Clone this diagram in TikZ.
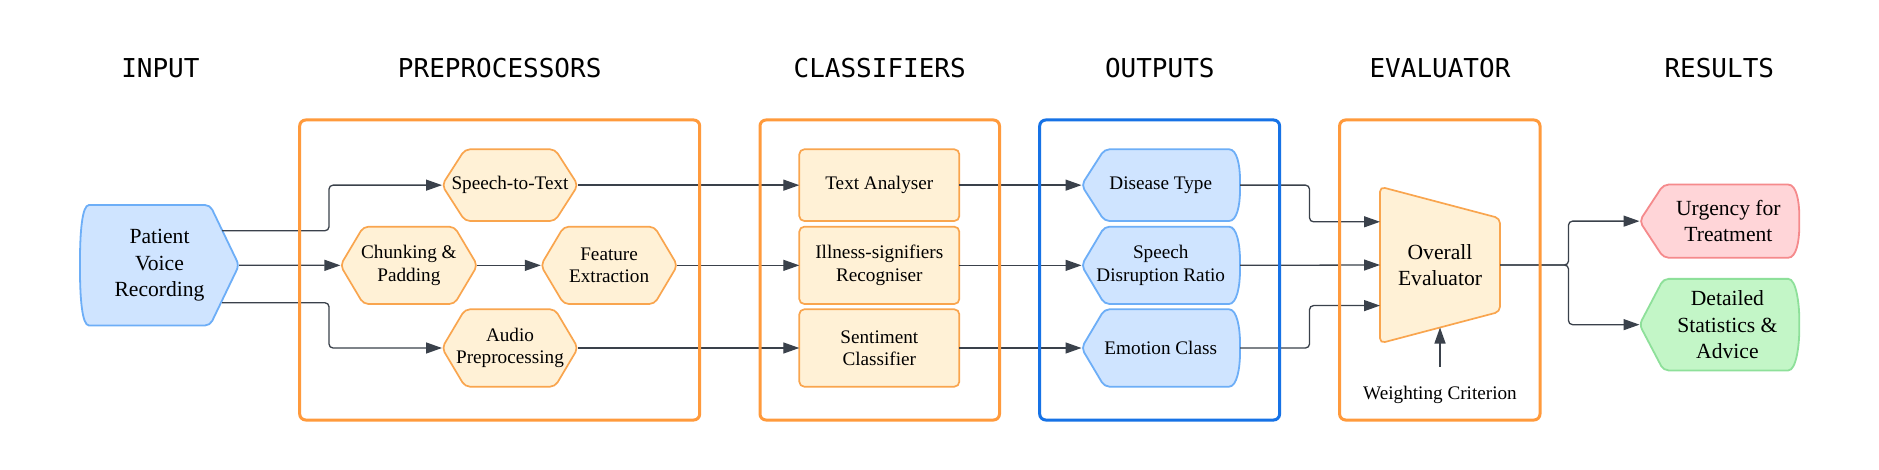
\documentclass[tikz,border=0pt]{standalone}
\usepackage{fontspec}
\setmainfont{Liberation Serif}
\newfontfamily\titlefont{DejaVu Sans Mono}
\usetikzlibrary{arrows.meta,backgrounds,calc}
\definecolor{grpor}{HTML}{FF9A3C}
\definecolor{grpbl}{HTML}{1672E6}
\definecolor{orfill}{HTML}{FFF1D6}
\definecolor{orline}{HTML}{F9A54E}
\definecolor{blfill}{HTML}{CFE4FF}
\definecolor{blline}{HTML}{6DAEF7}
\definecolor{pkfill}{HTML}{FFD5D8}
\definecolor{pkline}{HTML}{F58A8C}
\definecolor{grfill}{HTML}{C3F6C7}
\definecolor{grline}{HTML}{8EE09A}
\definecolor{lncol}{HTML}{3A414B}
\newcommand{\hexpath}[2]{\draw[#2] (#1.north) -- ([xshift=-11.5pt]#1.north east) -- (#1.east) -- ([xshift=-11.5pt]#1.south east) -- ([xshift=11.5pt]#1.south west) -- (#1.west) -- ([xshift=11.5pt]#1.north west) -- cycle;}
\newcommand{\tagpath}[3]{\draw[#2] (#1.north) -- ([xshift=-8pt]#1.north east) .. controls ([xshift=-1.5pt]#1.north east) and ([yshift=10pt]#1.east) .. (#1.east) .. controls ([yshift=-10pt]#1.east) and ([xshift=-1.5pt]#1.south east) .. ([xshift=-8pt]#1.south east) -- ([xshift=#3]#1.south west) -- (#1.west) -- ([xshift=#3]#1.north west) -- cycle;}
\begin{document}
\begin{tikzpicture}[x=0.5pt,y=-0.5pt,
  ttl/.style={font=\titlefont\fontsize{13}{15}\selectfont, inner sep=0pt},
  txt/.style={font=\fontsize{9.6}{11.2}\selectfont, align=center, inner sep=0pt, outer sep=0pt},
  txtb/.style={font=\fontsize{10.8}{13.2}\selectfont, align=center, inner sep=0pt, outer sep=0pt},
  grp/.style={draw=#1, line width=1.5pt, rounded corners=3pt, inner sep=0pt, minimum height=150pt},
  lnk/.style={draw=lncol, line width=0.65pt, rounded corners=2pt, -{Triangle[length=8pt,width=5.5pt]}},
  plain/.style={draw=lncol, line width=0.65pt, rounded corners=2pt},
  orsh/.style={fill=orfill, draw=orline, line width=0.85pt, rounded corners=2.5pt},
  blsh/.style={fill=blfill, draw=blline, line width=0.9pt, rounded corners=2.5pt},
  pksh/.style={fill=pkfill, draw=pkline, line width=0.9pt, rounded corners=2.5pt},
  grsh/.style={fill=grfill, draw=grline, line width=0.9pt, rounded corners=2.5pt},
  rectbox/.style={txt, fill=orfill, draw=orline, line width=0.85pt, rounded corners=2.5pt, minimum width=80pt}
]
\useasboundingbox (0,0) rectangle (1879,470);
\begin{pgfonlayer}{background}
\fill[white] (0,0) rectangle (1879,470);
\end{pgfonlayer}

% titles
\node[ttl] (t1) at (160.4,68) {INPUT};
\node[ttl] (t2) at (499.7,68) {PREPROCESSORS};
\node[ttl] (t3) at (879.7,68) {CLASSIFIERS};
\node[ttl] (t4) at (1159.8,68) {OUTPUTS};
\node[ttl] (t5) at (1440,68) {EVALUATOR};
\node[ttl] (t6) at (1719.3,68) {RESULTS};

% input
\node[txtb, minimum width=79.5pt, minimum height=60.25pt] (pvr) at (159.5,265.25) {Patient\\Voice\\Recording};

% preprocessors
\node[txt, minimum width=68pt, minimum height=35.85pt] (st) at (510,185.15) {Speech-to-Text};
\node[txt, minimum width=68.5pt, minimum height=38.65pt] (ch) at (408.9,265.35) {Chunking \&\\Padding};
\node[txt, minimum width=68.3pt, minimum height=38.65pt] (fe) at (609.1,265.35) {Feature\\Extraction};
\node[txt, minimum width=68pt, minimum height=38.7pt] (ap) at (510,348) {Audio\\Preprocessing};

% classifiers
\node[rectbox, minimum height=35.85pt] (ta) at (879.3,185.15) {Text Analyser};
\node[rectbox, minimum height=38.65pt] (il) at (879.3,265.35) {Illness-signifiers\\Recogniser};
\node[rectbox, minimum height=38.7pt] (sc) at (879.3,348) {Sentiment\\Classifier};

% outputs
\node[txt, minimum width=79.25pt, minimum height=35.85pt] (dt) at (1160.75,185.15) {Disease Type};
\node[txt, minimum width=79.25pt, minimum height=38.65pt] (sdr) at (1160.75,265.35) {Speech\\Disruption Ratio};
\node[txt, minimum width=79.25pt, minimum height=38.7pt] (ec) at (1160.75,348) {Emotion Class};

% evaluator
\node[txtb, minimum width=60pt, minimum height=78.3pt] (ov) at (1440,265) {Overall\\Evaluator};
\node[txt] (wc) at (1440,395) {Weighting Criterion};
\coordinate (wbase) at (1440,366.7);
\coordinate (wtip) at ($(ov.south west)!0.5!([yshift=15.8pt]ov.south east)$);

% results
\node[inner sep=0pt, minimum width=79.5pt, minimum height=36.15pt] (urg) at (1719.4,221.15) {};
\node[txtb] (urgt) at ([xshift=4.5pt]urg.center) {Urgency for\\Treatment};
\node[inner sep=0pt, minimum width=79.5pt, minimum height=45.35pt] (det) at (1719.4,324.65) {};
\node[txtb] (dett) at ([xshift=4pt]det.center) {Detailed\\Statistics \&\\Advice};

% shapes
\begin{pgfonlayer}{background}
\draw[blsh] (pvr.north) -- ([xshift=-14.5pt]pvr.north east) -- (pvr.east) -- ([xshift=-14.5pt]pvr.south east) -- ([xshift=7pt]pvr.south west) .. controls ([xshift=1pt]pvr.south west) and ([yshift=-16pt]pvr.west) .. (pvr.west) .. controls ([yshift=16pt]pvr.west) and ([xshift=1pt]pvr.north west) .. ([xshift=7pt]pvr.north west) -- cycle;
\hexpath{st}{orsh}
\hexpath{ch}{orsh}
\hexpath{fe}{orsh}
\hexpath{ap}{orsh}
\tagpath{dt}{blsh}{11.5pt}
\tagpath{sdr}{blsh}{11.5pt}
\tagpath{ec}{blsh}{11.5pt}
\tagpath{urg}{pksh}{12pt}
\tagpath{det}{grsh}{12pt}
\draw[orsh] (ov.west) -- (ov.north west) -- ([yshift=-15.8pt]ov.north east) -- ([yshift=15.8pt]ov.south east) -- (ov.south west) -- cycle;
\end{pgfonlayer}

% connectors
\draw[lnk] ([shift={(-17,-34.5)}]pvr.east) -- ++(107,0) |- (st.west);
\draw[lnk] (pvr.east) -- (ch.west);
\draw[lnk] ([shift={(-17,37.5)}]pvr.east) -- ++(107,0) |- (ap.west);
\draw[lnk] (ch.east) -- (fe.west);
\draw[lnk] (st.east) -- (ta.west);
\draw[lnk] (fe.east) -- (il.west);
\draw[lnk] (ap.east) -- (sc.west);
\draw[lnk] (ta.east) -- (dt.west);
\draw[lnk] (il.east) -- (sdr.west);
\draw[lnk] (sc.east) -- (ec.west);
\draw[lnk] (dt.east) -- ++(69.5,0) |- ([yshift=21.6pt]ov.west);
\draw[lnk] (sdr.east) -- (ov.west);
\draw[lnk] (ec.east) -- ++(69.5,0) |- ([yshift=-20.3pt]ov.west);
\draw[lnk] (wbase) -- (wtip);
\draw[lnk] (ov.east) -- ++(68.5,0) |- (urg.west);
\draw[lnk] (ov.east) -- ++(68.5,0) |- (det.west);

% group boxes
\node[grp=grpor, minimum width=200pt] (gpre) at (499.7,270) {};
\node[grp=grpor, minimum width=119.75pt] (gcls) at (879.75,270) {};
\node[grp=grpbl, minimum width=119.95pt] (gout) at (1159.65,270) {};
\node[grp=grpor, minimum width=100.2pt] (geva) at (1439.8,270) {};
\end{tikzpicture}
\end{document}
